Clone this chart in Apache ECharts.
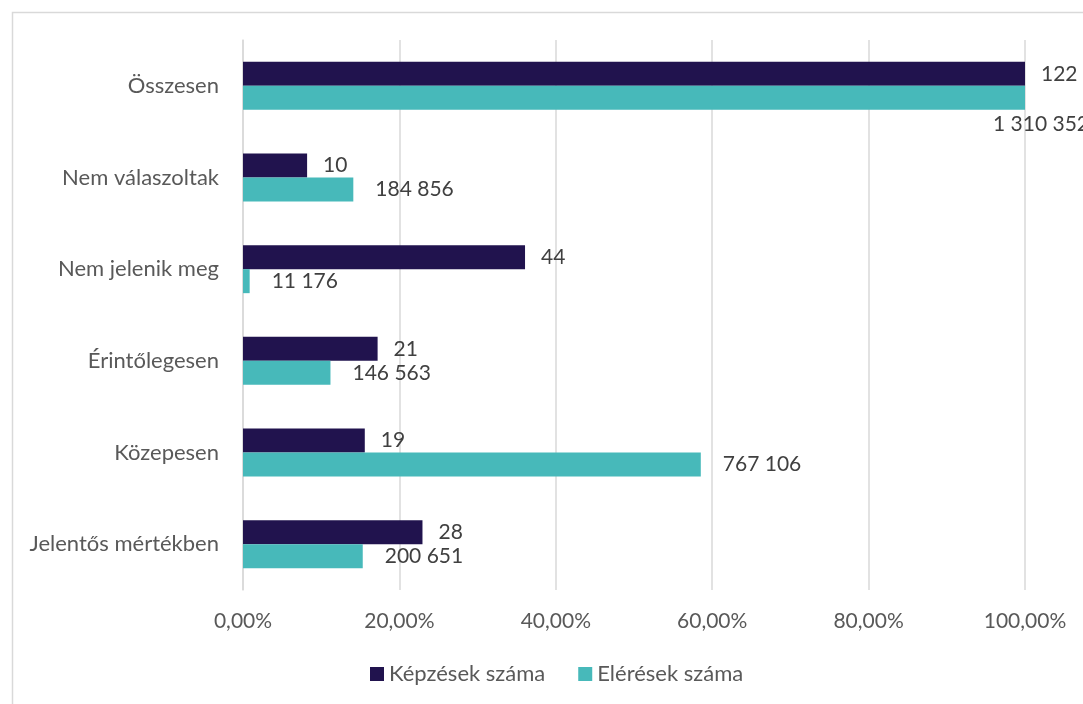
<!DOCTYPE html>
<html>
<head>
<meta charset="utf-8">
<script src="https://cdn.jsdelivr.net/npm/echarts@6/dist/echarts.min.js"></script>
<style>
  html, body { margin: 0; padding: 0; background: #ffffff; }
  #chart { width: 1083px; height: 704px; }
</style>
</head>
<body>
<div id="chart"></div>
<script>
// Categories listed top to bottom; the first row is the overall total.
const categories = ['Összesen', 'Nem válaszoltak', 'Nem jelenik meg', 'Érintőlegesen', 'Közepesen', 'Jelentős mértékben'];
const kepzesekSzama = [122, 10, 44, 21, 19, 28];
const eleresekSzama = [1310352, 184856, 11176, 146563, 767106, 200651];
const seriesNames = ['Képzések száma', 'Elérések száma'];
const xTickValues = [0, 20, 40, 60, 80, 100];

const FONT = 'Lato, "Open Sans", sans-serif';
const COLORS = ['#21134e', '#47b9ba'];

function fmtCount(n) {
  return String(n).replace(/\B(?=(\d{3})+(?!\d))/g, ' ');
}
function fmtPct(v) {
  return v.toFixed(2).replace('.', ',') + '%';
}

// Each bar shows its share of the total row, labelled with the raw count.
function buildData(counts, totalLabel) {
  const total = counts[0];
  return counts.map((c, i) => {
    const item = { value: c / total * 100, count: c };
    if (i === 0 && totalLabel) item.label = totalLabel;
    return item;
  });
}

const chart = echarts.init(document.getElementById('chart'), null, { renderer: 'canvas' });

const option = {
  animation: false,
  backgroundColor: '#ffffff',
  graphic: [{
    type: 'rect',
    left: 10, top: 10,
    shape: { width: 1100, height: 720 },
    style: { fill: 'none', stroke: '#d9d9d9', lineWidth: 1.5 },
    silent: true
  }],
  grid: { left: 243, right: 58, top: 40, bottom: 114, containLabel: false },
  legend: {
    data: seriesNames,
    left: 365,
    top: 658,
    icon: 'rect',
    itemWidth: 14,
    itemHeight: 14,
    itemGap: 33,
    textStyle: { fontFamily: FONT, fontSize: 22, color: '#595959' }
  },
  xAxis: {
    type: 'value',
    min: xTickValues[0],
    max: xTickValues[xTickValues.length - 1],
    interval: xTickValues[1] - xTickValues[0],
    axisLine: { show: false },
    axisTick: { show: false },
    splitLine: { show: true, lineStyle: { color: '#d9d9d9', width: 1.5 } },
    axisLabel: {
      formatter: fmtPct,
      fontFamily: FONT, fontSize: 21, color: '#595959', margin: 21
    }
  },
  yAxis: {
    type: 'category',
    data: categories,
    inverse: true,
    axisLine: { show: true, lineStyle: { color: '#d9d9d9', width: 1.5 } },
    axisTick: { show: false },
    axisLabel: { fontFamily: FONT, fontSize: 22, color: '#595959', margin: 24 }
  },
  series: [
    {
      name: seriesNames[0],
      type: 'bar',
      data: buildData(kepzesekSzama),
      barWidth: 24,
      barGap: '0%',
      itemStyle: { color: COLORS[0] },
      label: {
        show: true, position: 'right', distance: 16,
        fontFamily: FONT, fontSize: 21, color: '#404040',
        formatter: p => fmtCount(p.data.count)
      }
    },
    {
      name: seriesNames[1],
      type: 'bar',
      data: buildData(eleresekSzama, { position: 'right', offset: [-54, 26] }),
      barWidth: 24,
      barGap: '0%',
      itemStyle: { color: COLORS[1] },
      label: {
        show: true, position: 'right', distance: 22,
        fontFamily: FONT, fontSize: 21, color: '#404040',
        formatter: p => fmtCount(p.data.count)
      }
    }
  ]
};

chart.setOption(option);
</script>
</body>
</html>
